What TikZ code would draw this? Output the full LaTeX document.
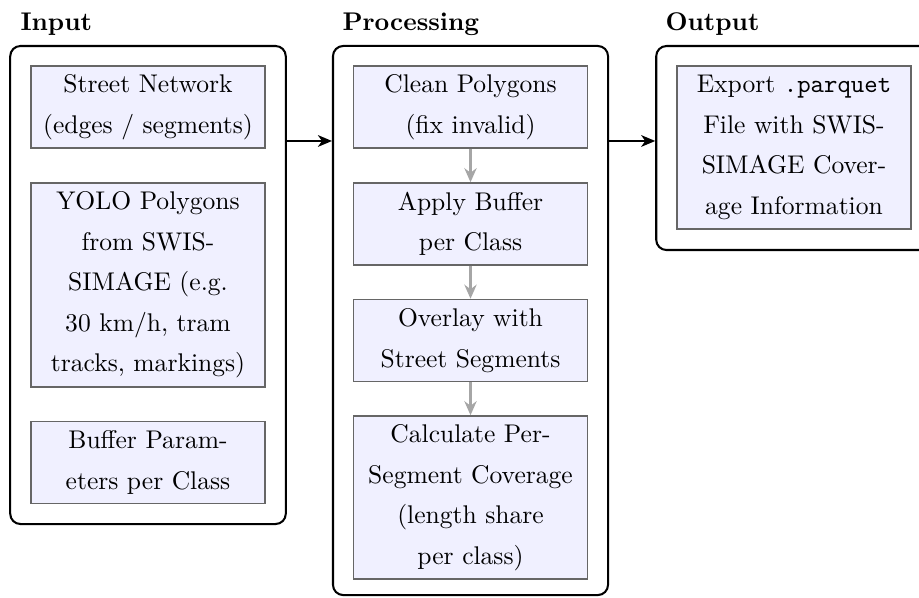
\documentclass[tikz,border=0pt]{standalone}
\usetikzlibrary{arrows.meta,calc}
\begin{document}
\begin{tikzpicture}[x=0.3912pt,y=-0.3912pt,
  stage/.style={draw=black,line width=0.8pt,rounded corners=4pt,minimum width=107.8pt,inner sep=0pt},
  task/.style={draw=black!60,line width=0.6pt,fill=blue!6,align=center,minimum width=91.54pt,
    inner sep=0pt,font=\fontsize{10pt}{15.85pt}\selectfont},
  two/.style={minimum height=32.08pt},
  four/.style={minimum height=63.77pt},
  five/.style={minimum height=79.8pt},
  heading/.style={anchor=base west,inner sep=0pt,font=\bfseries},
  flow/.style={-{Stealth[length=5.5pt,width=4.6pt,inset=1.6pt]},line width=0.6pt,black},
  step arrow/.style={-{Stealth[length=5.5pt,width=4.8pt,inset=1.8pt]},line width=0.9pt,black!35}]
\useasboundingbox (0,0) rectangle (919,597);

% stage frames
\node[stage,minimum height=187.0pt] (input) at (148,285) {};
\node[stage,minimum width=107.6pt,minimum height=214.8pt] (proc) at (470.5,320.5) {};
\node[stage,minimum height=79.8pt] (out) at (794,148) {};

% stage headings
\node[heading] (hin) at (20,30) {Input};
\node[heading] (hproc) at (342,30) {Processing};
\node[heading] (hout) at (665,30) {Output};

% input items
\node[task,two] (street) at (148,107) {Street Network\\(edges / segments)};
\node[task,five] (yolo) at (148,285) {YOLO Polygons\\from SWIS-\\SIMAGE (e.g.\\30 km/h, tram\\tracks, markings)};
\node[task,two] (buffer) at (148,462.5) {Buffer Param-\\eters per Class};

% processing steps
\node[task,two] (clean) at (470.5,107) {Clean Polygons\\(fix invalid)};
\node[task,two] (apply) at (470.5,224) {Apply Buffer\\per Class};
\node[task,two] (overlay) at (470.5,340.5) {Overlay with\\Street Segments};
\node[task,four] (calc) at (470.5,497.5) {Calculate Per-\\Segment Coverage\\(length share\\per class)};

% output item
\node[task,four] (export) at (794,147.5) {Export \texttt{.parquet}\\File with SWIS-\\SIMAGE Cover-\\age Information};

% step arrows inside processing
\draw[step arrow] (clean) -- (apply);
\draw[step arrow] (apply) -- (overlay);
\draw[step arrow] (overlay) -- (calc);

% arrows between stages
\coordinate (lvl) at ($(input.north east)!0.2!(input.south east)$);
\draw[flow] (lvl) -- (proc.west |- lvl);
\draw[flow] (proc.east |- lvl) -- (out.west |- lvl);
\end{tikzpicture}
\end{document}
